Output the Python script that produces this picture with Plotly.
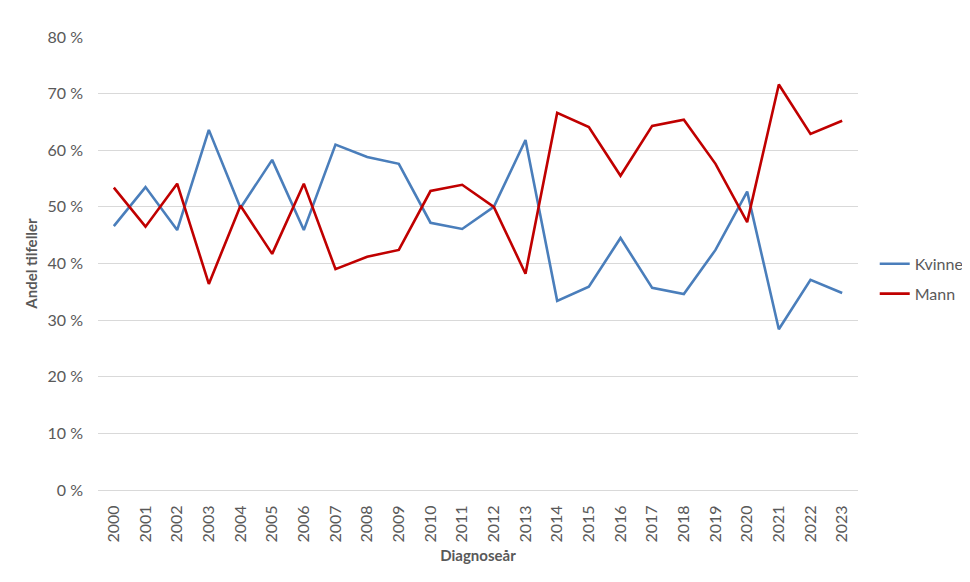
import plotly.graph_objects as go

years = [str(y) for y in range(2000, 2024)]
kvinne = [46.6, 53.5, 45.9, 63.6, 49.8, 58.3, 45.9, 61.0, 58.8, 57.6, 47.2, 46.1,
          50.0, 61.8, 33.4, 35.9, 44.5, 35.7, 34.6, 42.4, 52.7, 28.4, 37.1, 34.8]
mann = [53.4, 46.5, 54.1, 36.4, 50.2, 41.7, 54.1, 39.0, 41.2, 42.4, 52.8, 53.9,
        50.0, 38.2, 66.6, 64.1, 55.5, 64.3, 65.4, 57.6, 47.3, 71.6, 62.9, 65.2]

font_fam = "Lato, 'Open Sans', sans-serif"
grey = "#595959"

fig = go.Figure()
fig.add_trace(go.Scatter(x=years, y=kvinne, mode="lines", name="Kvinne", legendgroup="k",
                         line=dict(color="#4a7ebb", width=2.6)))
fig.add_trace(go.Scatter(x=years, y=mann, mode="lines", name="Mann", legendgroup="m",
                         line=dict(color="#c00000", width=2.6)))

fig.update_layout(
    width=970, height=582,
    margin=dict(l=90, r=120, t=29, b=100, autoexpand=False),
    paper_bgcolor="white", plot_bgcolor="white",
    font=dict(family=font_fam, color=grey, size=16),
    showlegend=True,
    legend=dict(x=1.022, y=0.466, xanchor="left", yanchor="middle",
                font=dict(size=16, color=grey), tracegroupgap=6),
    xaxis=dict(type="category", tickangle=-90, showgrid=False,
               range=[-0.5, len(years) - 0.5],
               showline=True, linecolor="#d9d9d9", ticks="",
               ticklabelstandoff=8,
               tickfont=dict(size=16, color=grey),
               title=dict(text="<b>Diagnoseår</b>", font=dict(size=15, color=grey), standoff=8)),
    yaxis=dict(range=[0, 80], dtick=10, ticksuffix=" %", showgrid=True,
               gridcolor="#d9d9d9", gridwidth=1, zeroline=False,
               ticklabelstandoff=14,
               tickfont=dict(size=16, color=grey), ticks="",
               title=dict(text="<b>Andel tilfeller</b>", font=dict(size=15, color=grey), standoff=6)),
)

fig.write_html("out.html")
